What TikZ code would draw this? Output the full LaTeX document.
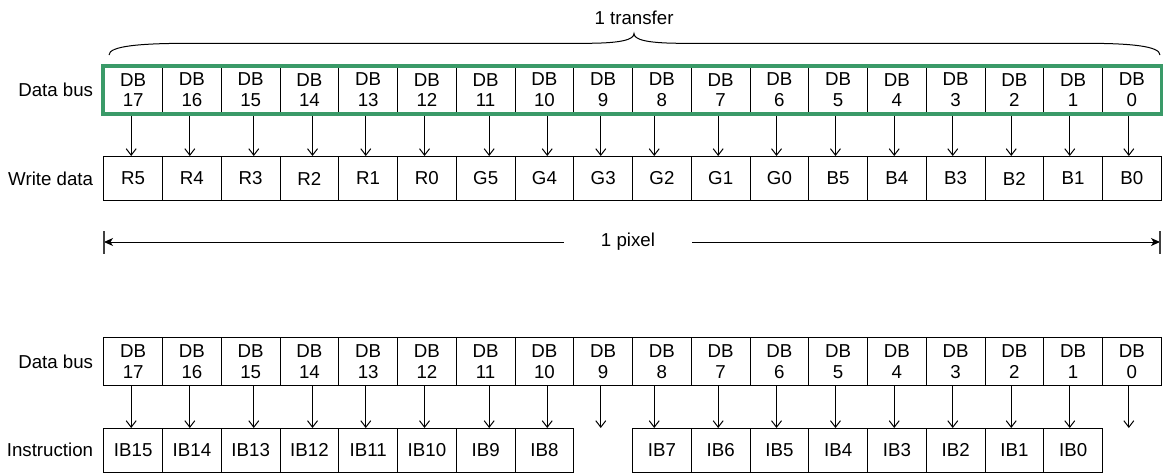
\documentclass[tikz,border=0pt]{standalone}
\usepackage{fontspec}
\setmainfont{Liberation Sans}
\usetikzlibrary{arrows.meta}
\definecolor{busgreen}{RGB}{58,154,104}
\begin{document}
\begin{tikzpicture}[x=1pt,y=-1pt,
  txt/.style={font=\fontsize{18.7}{20.7}\selectfont},
  cell/.style={txt, draw=black, line width=1pt, minimum width=58.75pt,
    minimum height=#1, inner sep=0pt, anchor=north west, align=center},
  rowlabel/.style={txt, anchor=east, inner sep=0pt},
  busarrow/.style={line width=1pt, -{Straight Barb[length=6.5pt,width=10pt,line width=1pt]}},
  spanarrow/.style={line width=1pt, -{Stealth[length=9pt,width=8pt,inset=2.5pt]}},
  busframe/.style={draw=busgreen, line width=4pt}
]
\useasboundingbox (0,0) rectangle (1163,472);

% horizontal offsets of the bus arrows, one per bit column
\def\offsets{{-2.0,-2.1,3.1,3.1,-2.4,-2.4,3.5,2.8,-2.4,-7.7,-2.5,-2.9,-2.7,-2.7,-2.9,-3.2,-3.4,-3.1}}

% ---------- 18-bit transfer of one pixel ----------
\foreach \i in {0,...,17} {
  \pgfmathtruncatemacro\n{17-\i}
  \node[cell=47pt] (tb\i) at ({103.3+58.75*\i},66) {DB\\\n};
}
\foreach \i/\t in {0/R5,1/R4,2/R3,3/R2,4/R1,5/R0,6/G5,7/G4,8/G3,9/G2,10/G1,11/G0,
                   12/B5,13/B4,14/B3,15/B2,16/B1,17/B0} {
  \node[cell=44pt] (wd\i) at ({103.3+58.75*\i},156) {\t};
}
\foreach \i in {0,...,17} {
  \pgfmathsetmacro\dx{\offsets[\i]}
  \draw[busarrow] ([xshift=\dx pt]tb\i.south) -- ([xshift=\dx pt]wd\i.north);
}
\draw[busframe] (tb0.north west) rectangle (tb17.south east);

\node[rowlabel] (lbus1) at ([xshift=-10pt]tb0.west) {Data bus};
\node[rowlabel] (lwd) at ([xshift=-10pt]wd0.west) {Write data};

% brace over the whole transfer
\node[txt, inner sep=0pt] (transfer) at (634,18) {1 transfer};
\draw[line width=1pt] (109,55) .. controls (109,46) and (140,43.3) .. (190,43.3)
  -- (585,43.3) .. controls (620,43.3) and (634,40) .. (634,33.5)
  .. controls (634,40) and (648,43.3) .. (683,43.3)
  -- (1085,43.3) .. controls (1130,43.3) and (1160,46) .. (1160,55);

% one pixel span
\node[txt, inner sep=0pt, minimum width=128pt] (pix) at (628,242) {1 pixel};
\coordinate (pxL) at (104,242);
\coordinate (pxR) at (1160,242);
\draw[spanarrow] (pix.west) -- (pxL);
\draw[spanarrow] (pix.east) -- (pxR);
\draw[line width=1.2pt, black!75] ([yshift=-11.5pt]pxL) -- ([yshift=11.5pt]pxL);
\draw[line width=1.2pt, black!75] ([yshift=-11.5pt]pxR) -- ([yshift=11.5pt]pxR);

% ---------- 16-bit instruction transfer ----------
\foreach \i in {0,...,17} {
  \pgfmathtruncatemacro\n{17-\i}
  \node[cell=47.7pt] (bb\i) at ({103.3+58.75*\i},337.3) {DB\\\n};
}
\foreach \i/\t in {0/IB15,1/IB14,2/IB13,3/IB12,4/IB11,5/IB10,6/IB9,7/IB8,
                   9/IB7,10/IB6,11/IB5,12/IB4,13/IB3,14/IB2,15/IB1,16/IB0} {
  \node[cell=43.5pt] (ib\i) at ({103.3+58.75*\i},428) {\t};
  \coordinate (it\i) at (ib\i.north);
}
% DB9 and DB0 carry no instruction bit
\coordinate (it8) at (bb8.south |- ib7.north);
\coordinate (it17) at (bb17.south |- ib16.north);
\foreach \i in {0,...,17} {
  \pgfmathsetmacro\dx{\offsets[\i]}
  \draw[busarrow] ([xshift=\dx pt]bb\i.south) -- ([xshift=\dx pt]it\i);
}
\node[rowlabel] (lbus2) at ([xshift=-10pt]bb0.west) {Data bus};
\node[rowlabel] (linst) at ([xshift=-10pt]ib0.west) {Instruction};
\end{tikzpicture}
\end{document}
